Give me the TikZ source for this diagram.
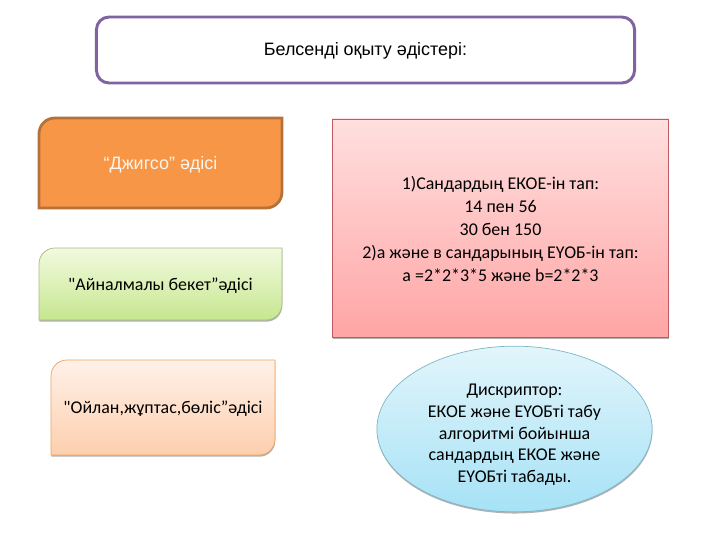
\documentclass[tikz,border=0pt]{standalone}
\usepackage{fontspec}
\setmainfont{Carlito}[Ligatures=TeXOff]
\newfontfamily\arialfont{Liberation Sans}
\usepackage{xcolor}
\usetikzlibrary{shapes.geometric,shadows}
\definecolor{titleline}{HTML}{8064A2}
\definecolor{jigsawfill}{HTML}{F79646}
\definecolor{jigsawline}{HTML}{B5713A}
\definecolor{greentop}{HTML}{F2FADF}
\definecolor{greenbot}{HTML}{C6E78F}
\definecolor{greenline}{HTML}{A3BD7C}
\definecolor{peachtop}{HTML}{FFF1E8}
\definecolor{peachbot}{HTML}{FDCFAE}
\definecolor{peachline}{HTML}{EFA25F}
\definecolor{redtop}{HTML}{FFDFDF}
\definecolor{redbot}{HTML}{FFA5A5}
\definecolor{redline}{HTML}{BE5A62}
\definecolor{bluetop}{HTML}{E2F5FB}
\definecolor{bluebot}{HTML}{A6E2F6}
\definecolor{blueline}{HTML}{7FB5C8}

% box with top left and bottom right corners rounded
\newcommand{\diagbox}[5]{
  \draw[#1] (#2+16,#3) -- (#4,#3) -- (#4,#5-16) .. controls (#4,#5-7) and (#4-7,#5) .. (#4-16,#5)
    -- (#2,#5) -- (#2,#3+16) .. controls (#2,#3+7) and (#2+7,#3) .. cycle;
}

\begin{document}
\begin{tikzpicture}[x=0.025cm, y=-0.025cm]
  % Styles
  \tikzstyle{softshadow}=[drop shadow={shadow xshift=0.2pt, shadow yshift=-1.2pt, opacity=0.3, fill=black}]
  \tikzstyle{lab}=[align=center, font=\fontsize{12.75}{16.5}\selectfont, inner sep=0pt]
  \tikzstyle{arial}=[align=center, font=\arialfont\fontsize{12.75}{15}\selectfont, inner sep=0pt]
  \tikzstyle{greenbox}=[draw=greenline, line width=0.5pt, top color=greentop, bottom color=greenbot, softshadow]
  \tikzstyle{peachbox}=[draw=peachline, line width=0.5pt, top color=peachtop, bottom color=peachbot, softshadow]

  \useasboundingbox (0,0) rectangle (720,540);

  % Title
  \node[draw=titleline, line width=2.1pt, fill=white, rounded corners=9pt, minimum width=13.45cm, minimum height=1.65cm, arial] (title) at (365.5,50) {};
  \node[arial] (titletext) at (365.5,51) {Белсенді оқыту әдістері:};

  % Left column
  \diagbox{draw=jigsawline, line width=2pt, fill=jigsawfill}{39}{118}{282}{208}
  \node[arial, text=white!92!orange] (jigsaw) at (160.5,164.5) {“Джигсо” әдісі};

  \diagbox{greenbox}{39}{248}{282}{320}
  \node[lab] (station) at (160.5,286) {"Айналмалы бекет”әдісі};

  \diagbox{peachbox}{51}{360}{275}{455}
  \node[lab] (think) at (163,409) {"Ойлан,жұптас,бөліс”әдісі};

  % Right column
  \node[draw=redline, line width=0.5pt, top color=redtop, bottom color=redbot, softshadow, minimum width=8.4cm, minimum height=5.45cm] (task) at (500.5,228) {};
  \node[lab] (tasktext) at (500.5,229) {1)Сандардың ЕКОЕ-ін тап:\\14 пен 56\\30 бен 150\\2)а және в сандарының ЕҮОБ-ін тап:\\а =2*2*3*5 және b=2*2*3};

  \node[ellipse, draw=blueline, line width=0.5pt, top color=bluetop, bottom color=bluebot, softshadow, minimum width=6.88cm, minimum height=4.14cm] (descr) at (514.5,429) {};
  \node[lab, font=\fontsize{12.75}{15.4}\selectfont] (descrtext) at (514.5,435) {Дискриптор:\\ЕКОЕ және ЕҮОБті табу\\алгоритмі бойынша\\сандардың ЕКОЕ және\\ЕҮОБті табады.};
\end{tikzpicture}
\end{document}
